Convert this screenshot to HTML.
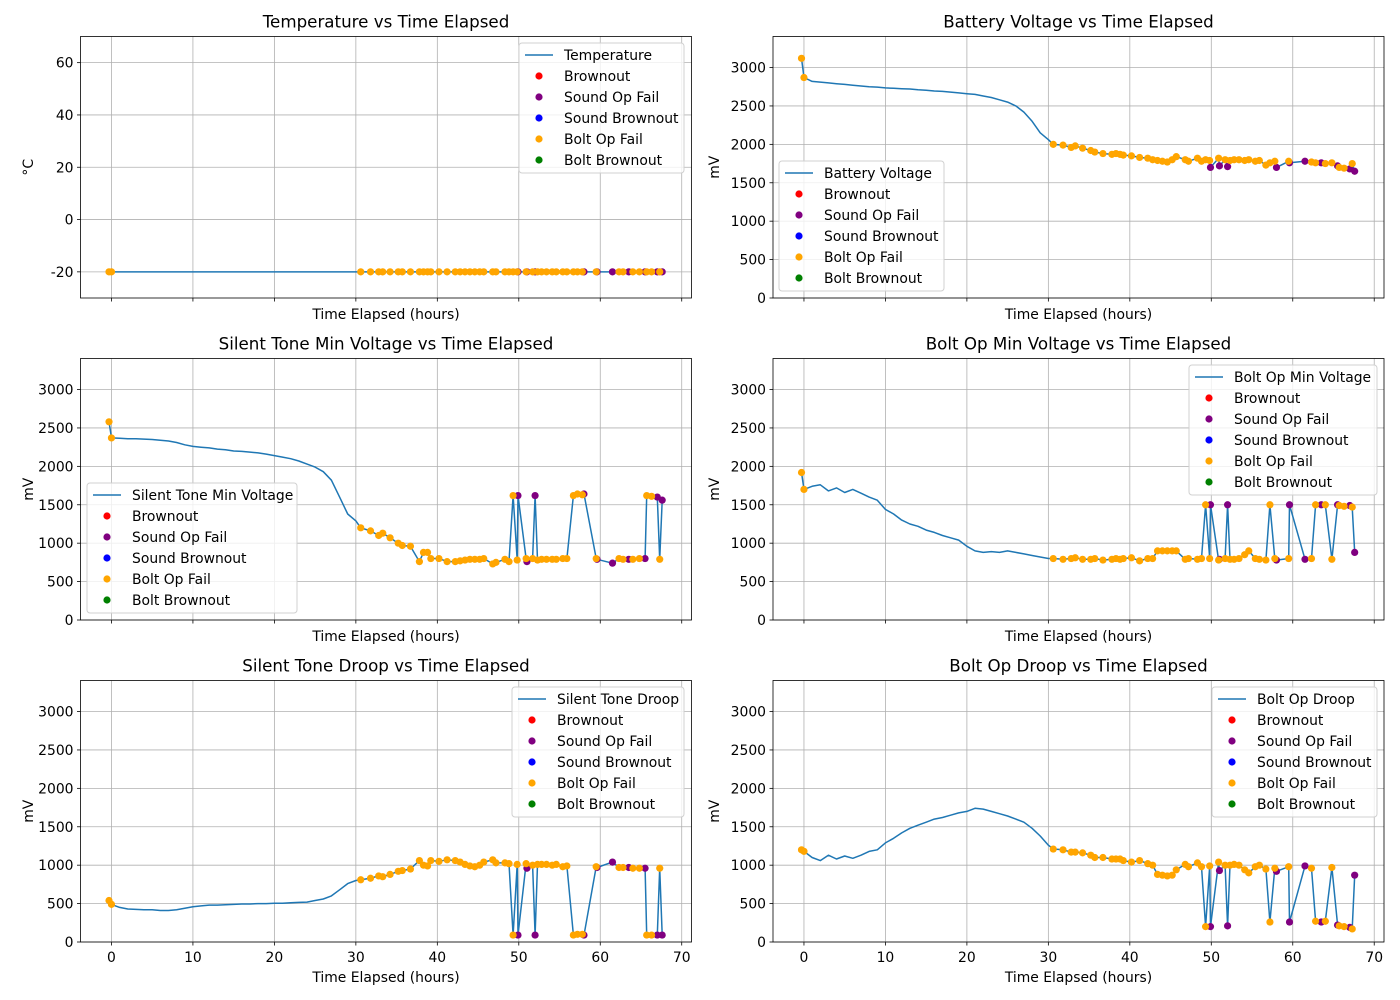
<!DOCTYPE html>
<html><head><meta charset="utf-8"><style>
body{margin:0;background:#fff}
svg{display:block;font-family:"DejaVu Sans","Liberation Sans",sans-serif}
</style></head><body>
<svg id="fig" width="1400" height="1000" viewBox="0 0 1400 1000"></svg>
<script>
// ---- data ----
const preTimes = [-0.3,0,1,2,3,4,5,6,7,8,9,10,11,12,13,14,15,16,17,18,19,20,21,22,23,24,25,26,27,28,29,30];
const preEventIdx = [0,1];
const eventTimes = [30.6,31.8,32.8,33.3,34.2,35.2,35.7,36.7,37.8,38.3,38.8,39.2,40.2,41.2,42.2,42.8,43.4,44.0,44.6,45.2,45.7,46.8,47.2,48.3,48.8,49.3,49.8,49.9,50.9,51.0,51.7,52.0,52.3,52.8,53.4,54.1,54.6,55.4,55.9,56.7,57.2,57.8,58.0,59.5,59.6,61.5,62.3,62.8,63.5,64.0,64.8,65.5,65.7,66.3,67.0,67.3,67.6];
const eventTypes = ["o","o","o","o","o","o","o","o","o","o","o","o","o","o","o","o","o","o","o","o","o","o","o","o","o","o","o","p","o","p","o","p","o","o","o","o","o","o","o","o","o","o","p","o","p","p","o","o","p","o","o","p","o","o","p","o","p"];

const tempPre = [-20,-20,-20,-20,-20,-20,-20,-20,-20,-20,-20,-20,-20,-20,-20,-20,-20,-20,-20,-20,-20,-20,-20,-20,-20,-20,-20,-20,-20,-20,-20,-20];
const tempEv = [-20,-20,-20,-20,-20,-20,-20,-20,-20,-20,-20,-20,-20,-20,-20,-20,-20,-20,-20,-20,-20,-20,-20,-20,-20,-20,-20,-20,-20,-20,-20,-20,-20,-20,-20,-20,-20,-20,-20,-20,-20,-20,-20,-20,-20,-20,-20,-20,-20,-20,-20,-20,-20,-20,-20,-20,-20];

const battPre = [3120,2870,2820,2810,2800,2790,2780,2770,2760,2750,2745,2735,2730,2725,2720,2710,2705,2695,2690,2680,2670,2660,2650,2630,2610,2580,2550,2500,2420,2300,2150,2060];
const battEv = [2000,1990,1960,1980,1950,1920,1900,1880,1870,1880,1870,1860,1850,1830,1820,1800,1790,1780,1770,1800,1840,1800,1780,1820,1780,1800,1790,1700,1820,1720,1800,1710,1790,1800,1800,1790,1800,1780,1790,1730,1760,1780,1700,1780,1760,1780,1770,1760,1760,1750,1760,1720,1700,1690,1680,1750,1650];

const stMinPre = [2580,2370,2365,2360,2360,2355,2350,2340,2330,2310,2280,2260,2250,2240,2225,2215,2200,2195,2185,2175,2160,2140,2120,2100,2070,2030,1990,1930,1820,1600,1380,1290];
const stMinEv = [1200,1160,1100,1130,1070,1000,970,960,760,880,880,800,800,760,760,770,780,790,790,790,800,730,750,790,760,1620,780,1620,800,760,800,1620,780,790,790,790,790,800,800,1620,1640,1630,1640,800,790,740,800,790,790,790,800,800,1620,1610,1600,790,1560];

const boMinPre = [1920,1700,1740,1760,1680,1720,1660,1700,1650,1600,1560,1440,1380,1300,1250,1220,1170,1140,1100,1070,1040,960,900,880,890,880,900,880,860,840,820,800];
const boMinEv = [800,790,800,810,790,790,800,780,790,800,790,800,810,770,800,800,900,900,900,900,900,790,800,790,800,1500,800,1500,780,790,800,1500,790,790,800,850,900,800,790,780,1500,800,780,800,1500,790,800,1500,1500,1500,790,1500,1490,1480,1490,1470,880];

const stDrPre = [540,490,450,430,425,420,420,410,410,420,440,460,470,480,480,485,490,495,495,500,500,505,505,510,515,520,540,560,600,680,760,800];
const stDrEv = [810,830,860,850,880,920,930,950,1060,1000,990,1060,1050,1070,1060,1040,1010,990,980,1000,1040,1070,1030,1030,1020,90,1010,90,1020,960,1000,90,1010,1010,1010,1000,1010,980,990,90,100,100,90,980,970,1040,970,970,970,960,960,960,90,90,90,960,90];

const boDrPre = [1200,1180,1100,1060,1130,1080,1120,1090,1130,1180,1200,1290,1350,1420,1480,1520,1560,1600,1620,1650,1680,1700,1740,1730,1700,1670,1640,1600,1560,1480,1380,1260];
const boDrEv = [1210,1200,1170,1170,1160,1130,1100,1100,1080,1080,1080,1060,1040,1060,1020,1000,880,870,860,870,940,1010,980,1030,980,200,990,200,1040,930,1000,210,1000,1010,1000,940,900,980,1000,950,260,960,920,980,260,990,960,270,260,270,970,220,210,200,190,170,870];

const xTicks = [0,10,20,30,40,50,60,70];
const mvTicks = [0,500,1000,1500,2000,2500,3000];
const tempTicks = [-20,0,20,40,60];
const legendLabels = ["Brownout","Sound Op Fail","Sound Brownout","Bolt Op Fail","Bolt Brownout"];
const legendColors = ["#ff0000","#800080","#0000ff","#ffa500","#008000"];

// ---- drawing ----
const NS="http://www.w3.org/2000/svg";
const fig=document.getElementById('fig');
function mk(tag,attrs,parent){const e=document.createElementNS(NS,tag);for(const k in attrs)e.setAttribute(k,attrs[k]);(parent||fig).appendChild(e);return e;}

const panels=[
 {name:"temperature",title:"Temperature vs Time Elapsed",label:"Temperature",ylab:"°C",pre:tempPre,ev:tempEv,ymin:-30,ymax:70,ticks:tempTicks,col:0,row:0,leg:[519,43,165],xl:false},
 {name:"battery-voltage",title:"Battery Voltage vs Time Elapsed",label:"Battery Voltage",ylab:"mV",pre:battPre,ev:battEv,ymin:0,ymax:3404,ticks:mvTicks,col:1,row:0,leg:[779,161,165],xl:false},
 {name:"silent-tone-min",title:"Silent Tone Min Voltage vs Time Elapsed",label:"Silent Tone Min Voltage",ylab:"mV",pre:stMinPre,ev:stMinEv,ymin:0,ymax:3404,ticks:mvTicks,col:0,row:1,leg:[87,483,210],xl:false},
 {name:"bolt-op-min",title:"Bolt Op Min Voltage vs Time Elapsed",label:"Bolt Op Min Voltage",ylab:"mV",pre:boMinPre,ev:boMinEv,ymin:0,ymax:3404,ticks:mvTicks,col:1,row:1,leg:[1189,365,188],xl:false},
 {name:"silent-tone-droop",title:"Silent Tone Droop vs Time Elapsed",label:"Silent Tone Droop",ylab:"mV",pre:stDrPre,ev:stDrEv,ymin:0,ymax:3404,ticks:mvTicks,col:0,row:2,leg:[512,687,172],xl:true},
 {name:"bolt-op-droop",title:"Bolt Op Droop vs Time Elapsed",label:"Bolt Op Droop",ylab:"mV",pre:boDrPre,ev:boDrEv,ymin:0,ymax:3404,ticks:mvTicks,col:1,row:2,leg:[1212,687,165],xl:true}
];

panels.forEach(p=>{
  const L=p.col?773:80.5, R=L+611, T=[36.5,358.5,680.5][p.row], B=T+261.5;
  const xs=t=>L+ (t+3.8)*(R-L)/75;
  const ys=v=>B-(v-p.ymin)*(B-T)/(p.ymax-p.ymin);
  const g=mk('g',{});
  
  
  // grid
  xTicks.forEach(t=>{const x=xs(t);
    const gl=mk('line',{x1:x,x2:x,y1:T,y2:B,stroke:'#b0b0b0','stroke-width':0.8},g);
    
    mk('line',{x1:x,x2:x,y1:B,y2:B+3.5,stroke:'#000','stroke-width':0.8},g);
    if(p.xl){const tx=mk('text',{x:x,y:B+20,'text-anchor':'middle','font-size':13.9,fill:'#000'},g);tx.textContent=t;
      }
  });
  p.ticks.forEach(v=>{const y=ys(v);
    const gl=mk('line',{x1:L,x2:R,y1:y,y2:y,stroke:'#b0b0b0','stroke-width':0.8},g);
    
    mk('line',{x1:L-3.5,x2:L,y1:y,y2:y,stroke:'#000','stroke-width':0.8},g);
    const tx=mk('text',{x:L-7,y:y+5,'text-anchor':'end','font-size':13.9,fill:'#000'},g);tx.textContent=v;
    
  });
  // line
  const times=preTimes.concat(eventTimes), vals=p.pre.concat(p.ev);
  const pts=times.map((t,i)=>xs(t).toFixed(1)+','+ys(vals[i]).toFixed(1)).join(' ');
  const pl=mk('polyline',{points:pts,fill:'none',stroke:'#1f77b4','stroke-width':1.5,'stroke-linejoin':'round'},g);
  
  // scatter: purple first then orange
  ['p','o'].forEach(tp=>{
    eventTimes.forEach((t,i)=>{ if(eventTypes[i]!==tp)return;
      const c=mk('circle',{cx:xs(t),cy:ys(p.ev[i]),r:3.6,fill:tp==='p'?'#800080':'#ffa500'},g);
      
      
    });
    if(tp==='o') preEventIdx.forEach(i=>{
      const c=mk('circle',{cx:xs(preTimes[i]),cy:ys(p.pre[i]),r:3.6,fill:'#ffa500'},g);
      
      
    });
  });
  // frame
  mk('rect',{x:L,y:T,width:R-L,height:B-T,fill:'none',stroke:'#000','stroke-width':0.8},g);
  // title & labels
  const ti=mk('text',{x:(L+R)/2,y:T-9,'text-anchor':'middle','font-size':16.7,fill:'#000'},g);ti.textContent=p.title;
  
  const xl=mk('text',{x:(L+R)/2,y:p.xl?B+40:B+21,'text-anchor':'middle','font-size':13.9,fill:'#000'},g);xl.textContent='Time Elapsed (hours)';
  
  const yx=p.col?719:33, yy=(T+B)/2;
  const yl=mk('text',{x:yx,y:yy,'text-anchor':'middle','font-size':13.9,fill:'#000',transform:`rotate(-90 ${yx} ${yy})`},g);yl.textContent=p.ylab;
  
  // legend
  const [lx,ly,lw]=p.leg;
  const lg=mk('g',{},g);
  
  mk('rect',{x:lx,y:ly,width:lw,height:130,rx:3,fill:'#fff','fill-opacity':0.8,stroke:'#d0d0d0','stroke-width':1},lg);
  mk('line',{x1:lx+6,x2:lx+34,y1:ly+12,y2:ly+12,stroke:'#1f77b4','stroke-width':1.5},lg);
  const t0=mk('text',{x:lx+45,y:ly+17,'font-size':13.9,fill:'#000'},lg);t0.textContent=p.label;
  
  legendLabels.forEach((lab,k)=>{const yy2=ly+33+k*21;
    mk('circle',{cx:lx+20,cy:yy2,r:3.6,fill:legendColors[k]},lg);
    const tx=mk('text',{x:lx+45,y:yy2+5,'font-size':13.9,fill:'#000'},lg);tx.textContent=lab;
    
  });
});
</script>
</body></html>
